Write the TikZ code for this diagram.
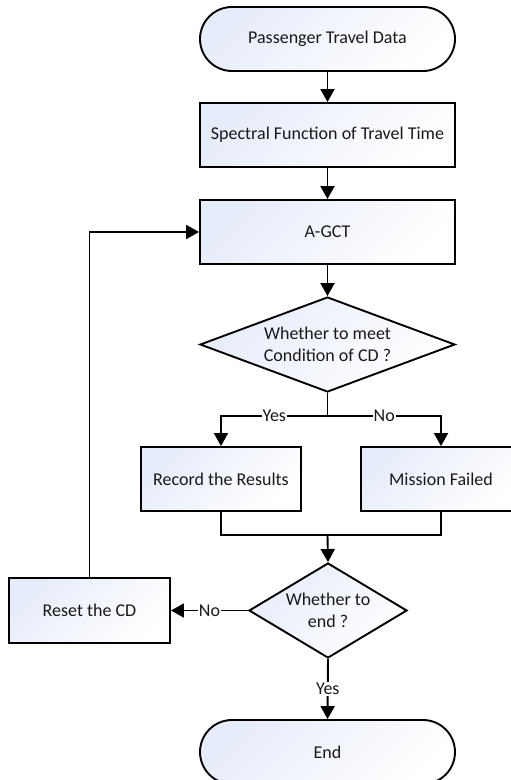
\documentclass[tikz,border=0pt]{standalone}
\usepackage{fontspec}
\setmainfont{Carlito}
\usetikzlibrary{shapes.geometric,arrows.meta}
\definecolor{fillblue}{RGB}{230,236,249}
\definecolor{txt}{RGB}{25,25,25}
\tikzset{
  base/.style={draw=black, line width=1.9pt, text=txt, font=\fontsize{18}{22}\selectfont,
    top color=fillblue, bottom color=white, shading angle=45, inner sep=0pt},
  terminal/.style={base, rectangle, rounded corners=32pt, minimum width=255pt, minimum height=64pt},
  procbox/.style={base, rectangle, minimum width=255pt, minimum height=64pt},
  smallbox/.style={base, rectangle, minimum width=160pt, minimum height=64pt},
  decision/.style={base, diamond, align=center},
  conn/.style={line width=1.9pt, draw=black},
  arr/.style={conn, -{Triangle[length=13pt,width=14pt]}},
  lbl/.style={fill=white, inner sep=1pt, text=txt, font=\fontsize{18}{22}\selectfont}
}
\begin{document}
\begin{tikzpicture}[x=1pt,y=-1pt]
\useasboundingbox (0,0) rectangle (511,780);
\clip (0,0) rectangle (511,780);
\node[terminal] (start) at (327.5,39) {Passenger Travel Data};
\node[procbox] (spec) at (327.5,135) {Spectral Function of Travel Time};
\node[procbox] (agct) at (327.5,232) {A-GCT};
\node[decision, aspect=2.68, minimum width=255pt, minimum height=95pt] (d1) at (327.5,344.5) {Whether to meet\\Condition of CD ?};
\node[smallbox] (rec) at (221,479) {Record the Results};
\node[smallbox] (fail) at (441,479) {Mission Failed};
\node[decision, aspect=1.66, minimum width=158pt, minimum height=95pt] (d2) at (328,610.5) {Whether to\\end ?};
\node[base, rectangle, minimum width=161pt, minimum height=65pt] (reset) at (89.5,610.5) {Reset the CD};
\node[terminal] (end) at (327.5,752) {End};
\coordinate (br) at (327.5,416);
\coordinate (mg) at (327.5,535);

\draw[arr] (start) -- (spec);
\draw[arr] (spec) -- (agct);
\draw[arr] (agct) -- (d1);
\draw[conn] (d1.south) -- (br);
\draw[arr] (br) -- node[lbl]{Yes} (rec.north |- br) -- (rec.north);
\draw[arr] (br) -- node[lbl]{No} (fail.north |- br) -- (fail.north);
\draw[conn] (rec.south) |- (mg);
\draw[conn] (fail.south) |- (mg);
\draw[arr] (mg) -- (d2.north);
\draw[arr] (d2.west) -- node[lbl]{No} (reset.east);
\draw[arr] (d2.south) -- node[lbl]{Yes} (end.north);
\draw[arr] (reset.north) |- (agct.west);
\end{tikzpicture}
\end{document}
